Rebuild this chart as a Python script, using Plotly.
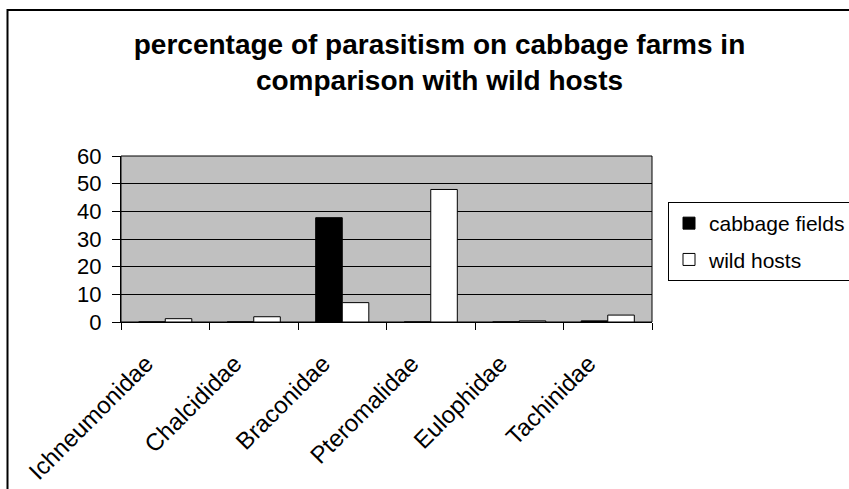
import plotly.graph_objects as go

categories = ["Ichneumonidae", "Chalcididae", "Braconidae", "Pteromalidae", "Eulophidae", "Tachinidae"]
cabbage_fields = [0, 0, 37.7, 0, 0, 0.4]
wild_hosts = [1.2, 1.9, 7.0, 47.9, 0.4, 2.5]
y_ticks = [0, 10, 20, 30, 40, 50, 60]

FONT = "Liberation Sans, Arial, sans-serif"

fig = go.Figure()
fig.add_trace(go.Bar(
    x=categories, y=cabbage_fields, name="cabbage fields",
    marker=dict(color="black", line=dict(color="black", width=1)),
    legendgroup="a",
))
fig.add_trace(go.Bar(
    x=categories, y=wild_hosts, name="wild hosts",
    marker=dict(color="white", line=dict(color="black", width=1)),
    legendgroup="b",
))

W, H = 849, 489
L, R, T, B = 121, 197, 156, 167
pw = W - L - R
ph = H - T - B

def px_x(p):
    return (p - L) / pw

def px_y(p):
    return (H - B - p) / ph

fig.update_layout(
    width=W, height=H,
    margin=dict(l=L, r=R, t=T, b=B, pad=0, autoexpand=False),
    paper_bgcolor="white",
    plot_bgcolor="#c0c0c0",
    font=dict(family=FONT, color="black", size=20),
    barmode="group",
    bargap=0.4,
    bargroupgap=0,
    title=dict(
        text="percentage of parasitism on cabbage farms in<br>comparison with wild hosts",
        font=dict(family=FONT, size=28, color="black", weight="bold"),
        x=439.5 / W, xref="container", xanchor="center",
        y=1 - 54 / H, yref="container", yanchor="top",
    ),
    legend=dict(
        x=px_x(668), y=px_y(202), xanchor="left", yanchor="top",
        xref="paper", yref="paper",
        bgcolor="white", bordercolor="black", borderwidth=1,
        font=dict(family=FONT, size=21, color="black"),
        traceorder="grouped", tracegroupgap=6,
        itemwidth=30,
    ),
    xaxis=dict(
        type="category",
        showline=True, linecolor="black", linewidth=1,
        ticks="outside", ticklen=7, tickcolor="black", tickwidth=1,
        tickson="boundaries",
        tickangle=-45,
        ticklabelstandoff=17,
        ticklabelshift=-19,
        tickfont=dict(family=FONT, size=24, color="black"),
        showgrid=False,
    ),
    yaxis=dict(
        range=[0, 60],
        tickvals=y_ticks,
        showline=True, linecolor="black", linewidth=1,
        ticks="outside", ticklen=8, tickcolor="black", tickwidth=1,
        ticklabelstandoff=6,
        showgrid=True, gridcolor="black", gridwidth=1,
        zeroline=False,
        tickfont=dict(family=FONT, size=22, color="black"),
    ),
    shapes=[
        dict(type="rect", xref="paper", yref="paper",
             x0=px_x(7.5), x1=px_x(870), y0=px_y(10), y1=px_y(520),
             line=dict(color="black", width=2), fillcolor="rgba(0,0,0,0)", layer="above"),
        dict(type="rect", xref="paper", yref="paper",
             x0=0, x1=1, y0=0, y1=1,
             line=dict(color="black", width=1), fillcolor="rgba(0,0,0,0)", layer="below"),
    ],
)

fig.write_html("out.html", config={"displayModeBar": False},
               post_script="document.body.style.margin='0';")
